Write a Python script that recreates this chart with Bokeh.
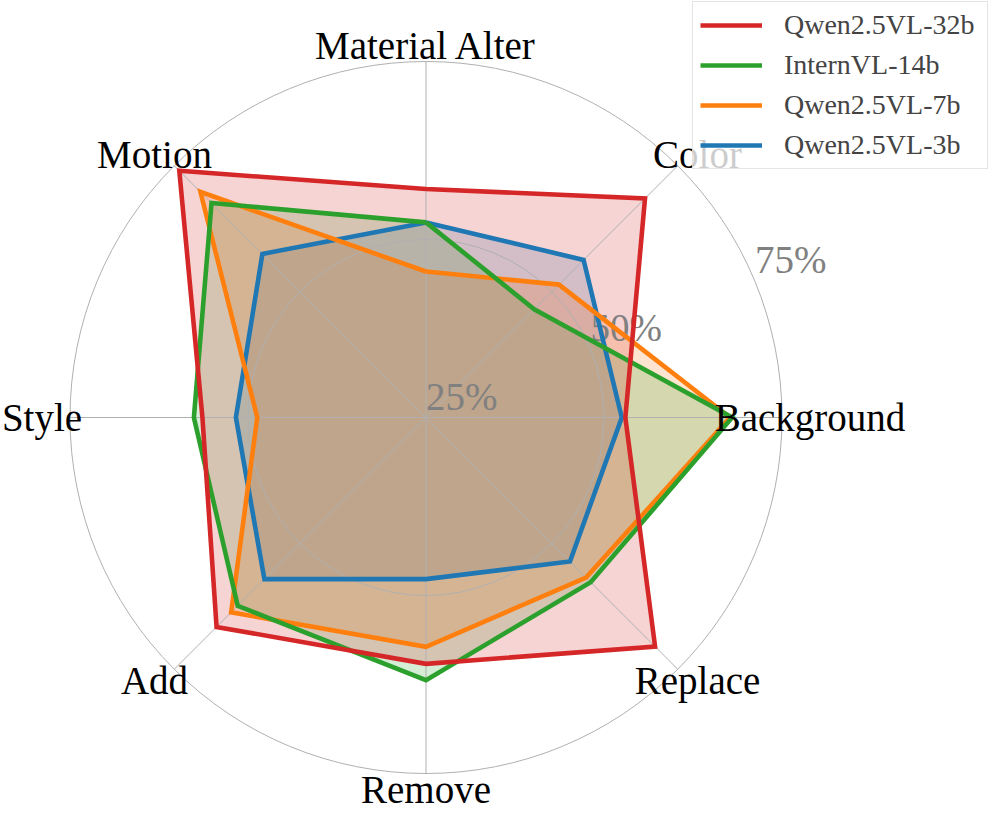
import numpy as np
from bokeh.plotting import figure
from bokeh.models import Range1d, Legend, LegendItem
from bokeh.core.properties import value
from bokeh.embed import file_html
from bokeh.resources import INLINE

# ---------------- data ----------------
categories = ["Material Alter", "Color", "Background", "Replace",
              "Remove", "Add", "Style", "Motion"]
models = ["Qwen2.5VL-32b", "InternVL-14b", "Qwen2.5VL-7b", "Qwen2.5VL-3b"]
qwen32 = [57.1, 68.5, 53.0, 70.5, 59.6, 66.6, 56.4, 74.0]
intern14 = [52.4, 46.5, 68.0, 57.7, 61.9, 62.4, 57.6, 67.6]
qwen7 = [45.5, 51.4, 67.7, 56.8, 57.2, 63.7, 48.7, 69.8]
qwen3 = [52.4, 56.3, 52.5, 53.6, 47.7, 57.1, 51.7, 57.5]
series = [qwen32, intern14, qwen7, qwen3]
colors = ["#d62728", "#2ca02c", "#ff7f0e", "#1f77b4"]
r_ticks = [25, 50, 75]
r_tick_labels = ["25%", "50%", "75%"]
r_min, r_max = 25, 75

# ---------------- layout ----------------
W, H = 989, 813
cx_px, cy_px = 425.5, 417.0          # chart centre in figure pixels (from top-left)
R_px = 356.0                          # outer radius in pixels
span = r_max - r_min
k = R_px / span                       # pixels per data unit
label_rx = 384.0 / k                  # category label radii (data units)
label_ry = 372.0 / k
rlabel_angle = np.deg2rad(22.5)
FONT = "Liberation Serif"
GRID = "#b0b0b0"

p = figure(width=W, height=H,
           x_range=Range1d(-cx_px / k, (W - cx_px) / k),
           y_range=Range1d(-(H - cy_px) / k, cy_px / k),
           x_axis_type=None, y_axis_type=None,
           output_backend="svg", toolbar_location=None,
           min_border=0, outline_line_color=None)
p.grid.visible = False

n = len(categories)
theta = np.arange(n) * 2 * np.pi / n      # clockwise from top


def to_xy(vals):
    r = np.asarray(vals, dtype=float) - r_min
    return r * np.sin(theta), r * np.cos(theta)


order = list(reversed(list(zip(models, series, colors))))

# fills (beneath everything else)
for name, vals, col in order:
    xs, ys = to_xy(vals)
    p.patch(list(xs), list(ys), fill_color=col, fill_alpha=0.2, line_color=None)

# grid circles and spokes
grid_r = [t - r_min for t in r_ticks if t > r_min]
p.circle(x=[0] * len(grid_r), y=[0] * len(grid_r), radius=grid_r,
         fill_color=None, line_color=GRID, line_width=1)
p.segment(x0=[0] * n, y0=[0] * n,
          x1=list(span * np.sin(theta)), y1=list(span * np.cos(theta)),
          line_color=GRID, line_width=1)

# radial tick labels
rr = np.array(r_ticks, dtype=float) - r_min
p.text(x=list(rr * np.cos(rlabel_angle)), y=list(rr * np.sin(rlabel_angle)),
       text=r_tick_labels, text_align="left", text_baseline="bottom",
       text_font=value(FONT), text_font_size="39px", text_color="#808080")

# outlines (first model ends on top)
line_renderers = {}
for name, vals, col in order:
    xs, ys = to_xy(vals)
    xl = list(xs) + [xs[0]]
    yl = list(ys) + [ys[0]]
    line_renderers[name] = p.line(xl, yl, line_color=col, line_width=4.6,
                                  line_join="miter")

# category labels
p.text(x=list(label_rx * np.sin(theta)), y=list(label_ry * np.cos(theta)),
       text=categories, text_align="center", text_baseline="middle",
       text_font=value(FONT), text_font_size="39px", text_color="black")

legend = Legend(items=[LegendItem(label=m, renderers=[line_renderers[m]]) for m in models],
                location="top_right", margin=1, padding=7, spacing=8,
                glyph_width=62, glyph_height=28, label_height=28, label_width=196,
                label_standoff=22,
                label_text_font=FONT, label_text_font_size="28px",
                border_line_color="#cccccc", border_line_width=1,
                background_fill_color="white", background_fill_alpha=0.8)
p.add_layout(legend)

open("out.html", "w").write(file_html(p, INLINE))
